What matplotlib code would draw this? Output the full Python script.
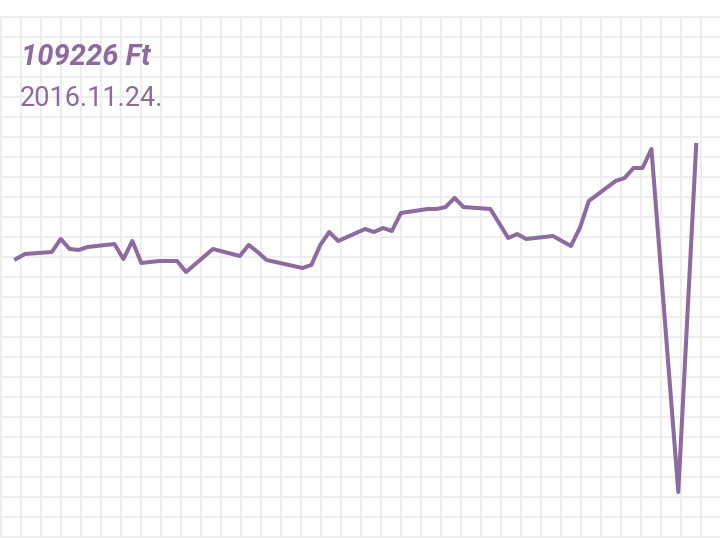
#!/usr/bin/env python3

import matplotlib

matplotlib.use("Agg")
import matplotlib.pyplot as plt

# trading-day index (weekends skipped) and level
day_idx = [0, 1, 4, 5, 6, 7, 8, 11, 12, 13, 14, 16, 18, 19, 22, 25, 26, 27, 28,
           32, 33, 34, 35, 36, 39, 40, 41, 42, 43, 46, 47, 48, 49, 50, 53, 55,
           56, 57, 60, 62, 63, 64, 67, 68, 69, 70, 71, 74, 76]
level = [279, 284, 286, 299, 289, 288, 291, 294, 279, 297, 275, 277, 277, 266,
         289, 282, 293, 286, 278, 270, 273, 293, 306, 297, 309, 306, 310, 307,
         325, 329, 329, 331, 340, 331, 329, 300, 304, 299, 302, 292, 310, 337,
         357, 360, 370, 370, 389, 46, 393]

title_text = "109226 Ft"
date_text = "2016.11.24."

PURPLE = "#8d6a9f"
GRID = "#eeeeee"


def main() -> None:
    fig = plt.figure(figsize=(7.2, 5.38), dpi=100)

    # background grid in pixel coordinates
    bg = fig.add_axes([0, 0, 1, 1])
    bg.set_xlim(0, 720)
    bg.set_ylim(538, 0)
    bg.axis("off")
    bg.vlines(range(1, 721, 20), 17, 538, color=GRID, lw=1.5)
    bg.hlines(range(17, 538, 20), 0, 720, color=GRID, lw=1.5)

    ax = fig.add_axes([0, 0, 1, 1])
    ax.patch.set_alpha(0)
    ax.axis("off")
    step = 8.95
    ax.set_xlim(-16 / step, (720 - 16) / step)
    ax.set_ylim(0, 538)
    ax.plot(day_idx, level, color=PURPLE, lw=2.9, solid_joinstyle="round")

    fig.text(21 / 720, 1 - 65 / 538, title_text, color=PURPLE, fontsize=21,
             fontfamily="Roboto", fontweight="bold", fontstyle="italic")
    fig.text(20 / 720, 1 - 106 / 538, date_text, color=PURPLE, fontsize=19.5,
             fontfamily="Roboto")

    fig.savefig("out.png", dpi=100)


if __name__ == "__main__":
    main()
